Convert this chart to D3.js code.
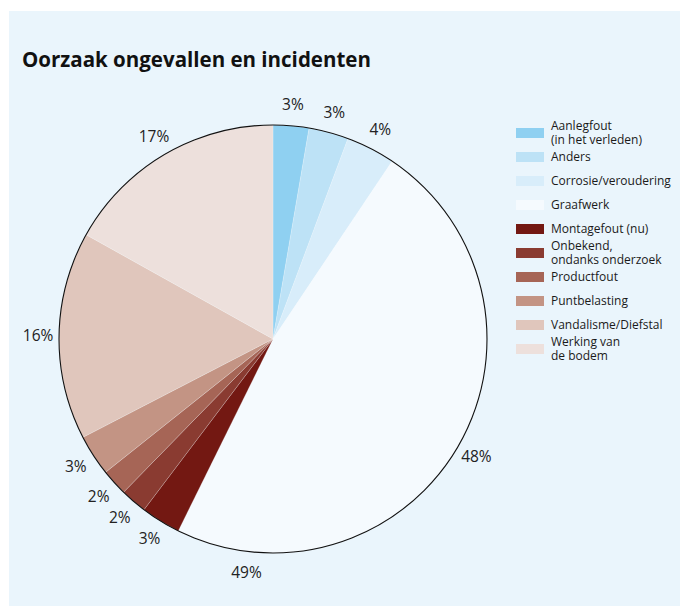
<!DOCTYPE html>
<html>
<head>
<meta charset="utf-8">
<script src="https://cdn.jsdelivr.net/npm/d3@7"></script>
<style>
  body { margin: 0; background: #fff; }
  svg { display: block; font-family: "Open Sans", sans-serif; }
</style>
</head>
<body>
<svg id="chart" width="680" height="606"></svg>
<script>
// categories and shares (in % of the circle)
categories = ["Aanlegfout", "Anders", "Corrosie/veroudering", "Graafwerk", "Montagefout (nu)",
    "Onbekend", "Productfout", "Puntbelasting", "Vandalisme/Diefstal", "Werking van de bodem"]
shares = [2.7, 3.0, 3.7, 47.9, 3.0, 2.0, 2.0, 3.1, 15.7, 16.9]
labels = ["3%", "3%", "4%", "48%", "3%", "2%", "2%", "3%", "16%", "17%"]
legendLines = [["Aanlegfout", "(in het verleden)"], ["Anders"], ["Corrosie/veroudering"], ["Graafwerk"],
    ["Montagefout (nu)"], ["Onbekend,", "ondanks onderzoek"], ["Productfout"], ["Puntbelasting"],
    ["Vandalisme/Diefstal"], ["Werking van", "de bodem"]]
colors = ["#8fd0f1", "#bde2f6", "#d8edfa", "#f5fafe", "#731812", "#8a3b31",
    "#a66556", "#c39484", "#e0c6bc", "#ede0dc"]
// stray label printed in the original, at this share-position of the circle
extraLabel = { text: "49%", at: 51.8 }

var svg = d3.select("#chart")

svg.append("rect")
    .attr("x", 9).attr("y", 11)
    .attr("width", 671).attr("height", 595)
    .attr("fill", "#eaf5fc")

svg.append("text")
    .attr("x", 22).attr("y", 67)
    .attr("font-size", 20.5).attr("font-weight", "bold")
    .attr("fill", "#111")
    .text("Oorzaak ongevallen en incidenten")

var cx = 273, cy = 339, r = 214

var g = svg.append("g").attr("transform", `translate(${cx},${cy})`)

var pie = d3.pie().sort(null).value(d => d)
var arcs = pie(shares)
var arc = d3.arc().innerRadius(0).outerRadius(r)
var labelArc = d3.arc().innerRadius(235).outerRadius(235)

g.selectAll("path.slice")
    .data(arcs)
    .enter()
        .append("path")
        .attr("class", "slice")
        .attr("d", arc)
        .attr("fill", (d, i) => colors[i])
        .attr("stroke", "rgba(255,255,255,0.35)")
        .attr("stroke-width", 0.6)

g.append("circle")
    .attr("r", r)
    .attr("fill", "none")
    .attr("stroke", "#111")
    .attr("stroke-width", 1.1)

g.selectAll("text.pct")
    .data(arcs)
    .enter()
        .append("text")
        .attr("class", "pct")
        .attr("transform", d => `translate(${labelArc.centroid(d)})`)
        .attr("text-anchor", "middle")
        .attr("dy", "0.35em")
        .attr("font-size", 15.5)
        .attr("fill", "#222")
        .text((d, i) => labels[i])

var total = d3.sum(shares)
var a = extraLabel.at / total * 2 * Math.PI
g.append("text")
    .attr("transform", `translate(${labelArc.centroid({startAngle: a, endAngle: a})})`)
    .attr("text-anchor", "middle")
    .attr("dy", "0.35em")
    .attr("font-size", 15.5)
    .attr("fill", "#222")
    .text(extraLabel.text)

// legend
var legend = svg.append("g").attr("transform", "translate(516,128)")
var item = legend.selectAll("g")
    .data(categories)
    .enter()
        .append("g")
        .attr("transform", (d, i) => `translate(0,${i * 24})`)

item.append("rect")
    .attr("width", 28).attr("height", 10)
    .attr("fill", (d, i) => colors[i])

item.append("text")
    .attr("x", 35)
    .attr("font-size", 12)
    .attr("fill", "#1a1a1a")
    .each(function(d, i) {
        var lines = legendLines[i]
        var t = d3.select(this)
        lines.forEach((s, j) => {
            t.append("tspan")
                .attr("x", 35)
                .attr("y", 9 + (j - (lines.length - 1) / 2) * 14)
                .text(s)
        })
    })
</script>
</body>
</html>
